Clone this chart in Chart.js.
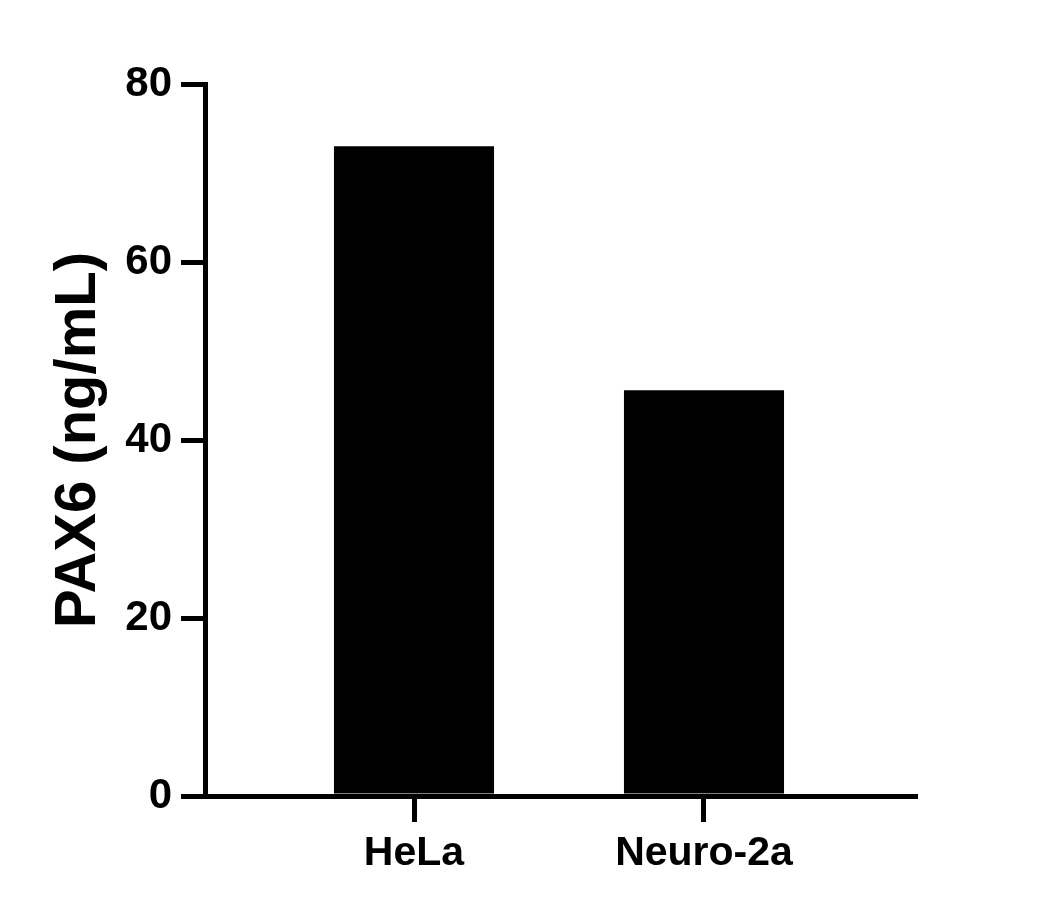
<!DOCTYPE html>
<html>
	<head>
		<style>
			body { margin: 0; background: #fff; }
		</style>
		<script src="https://cdn.jsdelivr.net/npm/chart.js@4.4.1/dist/chart.umd.min.js"></script>
	</head>
	<body>
		<canvas id="myChart" width="1047" height="914"></canvas>
		<script>
			// data
			var categories = ["HeLa", "Neuro-2a"];
			var pax6 = [73.0, 45.6];
			var yTicks = [0, 20, 40, 60, 80];

			var fontFamily = "'Liberation Sans', Arial, sans-serif";

			var points = [];
			for(var i = 0; i < categories.length; i++){
				points.push({x: i, y: pax6[i]});
			}

			var ctx = document.getElementById("myChart").getContext('2d');
			var myChart = new Chart(ctx, {
				type: 'bar',
				data: {
					datasets: [{
						label: "PAX6",
						data: points,
						backgroundColor: "#000000",
						borderWidth: 0,
						categoryPercentage: 1.0,
						barPercentage: 0.552
					}]
				},
				options: {
					responsive: false,
					animation: false,
					devicePixelRatio: 1,
					layout: { padding: { left: 0, right: 132, top: 84, bottom: 0 } },
					plugins: { legend: { display: false }, tooltip: { enabled: false } },
					scales: {
						x: {
							type: 'linear',
							offset: false,
							min: -0.7207,
							max: 1.7276,
							grid: { offset: false, drawOnChartArea: false, color: "#000", lineWidth: 5, tickLength: 26 },
							border: { color: "#000", width: 5 },
							afterBuildTicks: function(scale){
								scale.ticks = categories.map(function(c, i){ return {value: i}; });
							},
							afterFit: function(scale){ scale.height = 118; },
							ticks: {
								color: "#000",
								padding: 7,
								font: { family: fontFamily, size: 41, weight: 'bold' },
								callback: function(v){ return categories[v]; }
							}
						},
						y: {
							min: 0,
							max: 80,
							grid: { drawOnChartArea: false, color: "#000", lineWidth: 5, tickLength: 24 },
							border: { color: "#000", width: 5 },
							afterBuildTicks: function(scale){
								scale.ticks = yTicks.map(function(v){ return {value: v}; });
							},
							afterFit: function(scale){ scale.width = 205; },
							ticks: {
								color: "#000",
								padding: 9,
								font: { family: fontFamily, size: 42, weight: 'bold' }
							},
							title: {
								display: true,
								text: "PAX6 (ng/mL)",
								color: "#000",
								padding: { top: 44, bottom: 0 },
								font: { family: fontFamily, size: 58, weight: 'bold' }
							}
						}
					}
				}
			});
		</script>
	</body>
</html>
